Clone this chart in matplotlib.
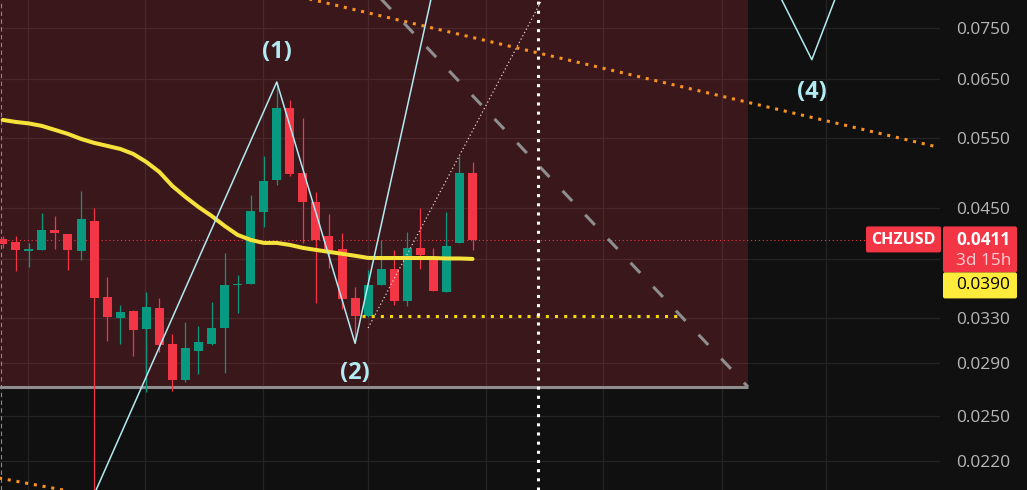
import matplotlib
matplotlib.use('Agg')
import matplotlib.pyplot as plt
from matplotlib.patches import Rectangle, FancyBboxPatch
from matplotlib.transforms import IdentityTransform
from matplotlib.ticker import FixedLocator, FixedFormatter, NullLocator

# daily candles, bar index = position in the lists
opens = [0.04128, 0.04093, 0.03990, 0.04001, 0.04235, 0.04187, 0.03990, 0.04344,
         0.03502, 0.03300, 0.03367, 0.03198, 0.03395, 0.03065, 0.02768, 0.03005,
         0.03065, 0.03207, 0.03623, 0.03633, 0.04456, 0.04879, 0.05984, 0.04977,
         0.04584, 0.04163, 0.04012, 0.03492, 0.03318, 0.03623, 0.03791, 0.03462,
         0.04024, 0.03911, 0.03552, 0.04081, 0.04977]
highs = [0.04163, 0.04163, 0.04081, 0.04443, 0.04406, 0.04190, 0.04729, 0.04507,
         0.03706, 0.03424, 0.03376, 0.03552, 0.03492, 0.03153, 0.03262, 0.03226,
         0.03453, 0.03968, 0.03727, 0.04676, 0.05222, 0.06441, 0.06121, 0.05816,
         0.04715, 0.04431, 0.04199, 0.03600, 0.03780, 0.04116, 0.04001, 0.04211,
         0.04507, 0.04024, 0.04456, 0.05222, 0.05134]
lows = [0.04024, 0.03770, 0.03812, 0.03995, 0.04012, 0.03780, 0.03889, 0.02000,
        0.03091, 0.03065, 0.02963, 0.02675, 0.02996, 0.02683, 0.02752, 0.02816,
        0.03056, 0.02824, 0.03347, 0.03630, 0.04271, 0.04810, 0.04935, 0.04081,
        0.03443, 0.03802, 0.03386, 0.03074, 0.03309, 0.03620, 0.03424, 0.03414,
        0.03791, 0.03560, 0.03550, 0.04075, 0.04001]
closes = [0.04069, 0.04001, 0.04012, 0.04235, 0.04199, 0.04001, 0.04369, 0.03492,
          0.03309, 0.03357, 0.03189, 0.03405, 0.03056, 0.02768, 0.03030, 0.03083,
          0.03207, 0.03623, 0.03633, 0.04469, 0.04865, 0.05984, 0.04963, 0.04584,
          0.04116, 0.03979, 0.03482, 0.03318, 0.03623, 0.03791, 0.03462, 0.04024,
          0.03946, 0.03562, 0.04046, 0.04977, 0.04110]
ma_values = [0.05783, 0.05750, 0.05726, 0.05686, 0.05622, 0.05558, 0.05480, 0.05419,
             0.05373, 0.05327, 0.05252, 0.05134, 0.04991, 0.04796, 0.04649, 0.04519,
             0.04406, 0.04283, 0.04175, 0.04116, 0.04081, 0.04081, 0.04058, 0.04024,
             0.04001, 0.03979, 0.03957, 0.03935, 0.03911, 0.03910, 0.03910, 0.03910,
             0.03910, 0.03910, 0.03905, 0.03905, 0.03900]

price_ticks = [0.022, 0.025, 0.029, 0.033, 0.039, 0.045, 0.055, 0.065, 0.075]
price_tick_labels = ['0.0220', '0.0250', '0.0290', '0.0330', '', '0.0450',
                     '0.0550', '0.0650', '0.0750']
time_grid = [1.94, 10.9, 19.95, 28.0, 37.0, 46.0, 55.1, 63.1]

# elliott wave count (0)-(5)
wave_bars = [7, 21, 27, 41, 62, 69.6]
wave_prices = [0.0200, 0.0644, 0.0307, 0.321, 0.0686, 0.143]
wave_labels = ['(1)', '(2)', '(4)']
wave_label_bars = [21, 27, 62]
wave_label_prices = [0.0701, 0.0282, 0.0626]

# drawings
zone_end_bar = 57.1
zone_floor = 0.02714
fall_bars = [27, 57.1]
fall_prices = [0.0881, 0.02714]
trend_bars = [22, 71.6]
trend_prices = [0.08254, 0.05357]
trend_low_bars = [-0.3, 6]
trend_low_prices = [0.02096, 0.02007]
proj_bars = [28, 41.3]
proj_prices = [0.03207, 0.0812]
support_bars = [27.5, 52.0]
support_price = 0.03318
today_bar = 41
last_price = 0.0411
ma_last = 0.0390
symbol = 'CHZUSD'
countdown = '3d 15h'

BG = '#101010'
UP = '#089981'
DOWN = '#f23645'
WAVE = '#b2ebf2'

W, H = 1027, 490
fig = plt.figure(figsize=(W / 100, H / 100), dpi=100, facecolor=BG)
ax = fig.add_axes([0, 0, 940 / W, 1])
ax.set_facecolor(BG)
ax.set_yscale('log')
ax.set_xlim(-0.207, 71.82)
ax.set_ylim(0.02026, 0.08124)

for s in ax.spines.values():
    s.set_visible(False)
ax.yaxis.set_major_locator(FixedLocator(price_ticks))
ax.yaxis.set_major_formatter(FixedFormatter(price_tick_labels))
ax.yaxis.set_minor_locator(NullLocator())
ax.yaxis.tick_right()
ax.tick_params(axis='y', length=0, pad=11.5, labelsize=12.4, labelcolor='#b8b8b8')
for t in ax.get_yticklabels():
    t.set_fontfamily('Open Sans')
ax.set_xticks(time_grid)
ax.set_xticklabels([])
ax.tick_params(axis='x', length=0)
ax.grid(True, color='#242424', lw=0.9, zorder=0)
ax.set_axisbelow(True)

# red zone
ax.add_patch(Rectangle((-5, zone_floor), zone_end_bar + 5, 1.0,
                       facecolor='#e2384c', alpha=0.2, lw=0, zorder=1))
ax.hlines(zone_floor, -5, zone_end_bar, color='#8e8e8e', lw=2.2, zorder=2)

# left edge dashes
ax.axvline(-0.107, color='#8a8a8a', lw=0.8, ls=(0, (4, 3)), zorder=2)

# last price line
ax.axhline(last_price, xmax=866 / 940, color=DOWN, lw=0.8, ls=(0, (1, 2.5)), zorder=2)

# candles
for i in range(len(opens)):
    o, h, l, c = opens[i], highs[i], lows[i], closes[i]
    col = UP if c >= o else DOWN
    ax.vlines(i, l, h, color=col, lw=0.9, zorder=3)
    ax.bar(i, abs(c - o), bottom=min(o, c), width=0.69, color=col, lw=0, zorder=3)

# moving average
ax.plot(range(len(ma_values)), ma_values, color='#f5e23a', lw=2.9,
        solid_capstyle='round', solid_joinstyle='round', zorder=4)

# trend lines
ax.plot(trend_bars, trend_prices, color='#f7931e', lw=2.2, ls=(0, (1, 1.9)),
        dash_capstyle='butt', zorder=5)
ax.plot(trend_low_bars, trend_low_prices, color='#f7931e', lw=2.2, ls=(0, (1, 1.9)),
        dash_capstyle='butt', zorder=5)
ax.plot(fall_bars, fall_prices, color='#8e8e8e', lw=2.2, ls=(0, (4.6, 6.2)),
        dash_capstyle='butt', zorder=5)
ax.plot(proj_bars, proj_prices, color='#e8cfd2', lw=0.9, ls=(0, (1, 2)), zorder=5)
ax.hlines(support_price, support_bars[0], support_bars[1], color='#f5d90a', lw=2.2,
          ls=(0, (1, 2)), zorder=5)
ax.axvline(today_bar, color='white', lw=2.2, ls=(0, (1, 2)), zorder=5)

# wave count
ax.plot(wave_bars, wave_prices, color=WAVE, lw=1.1, zorder=6)
for lab, b, p in zip(wave_labels, wave_label_bars, wave_label_prices):
    ax.text(b, p, lab, color=WAVE, fontsize=17, fontfamily='Open Sans',
            fontweight='bold', ha='center', va='center', zorder=6)

# right-side price labels
y0 = ax.transData.transform((0, last_price))[1]
fig.add_artist(FancyBboxPatch((943, y0 - 32), 74, 46, boxstyle='round,pad=0,rounding_size=2',
                              transform=IdentityTransform(), facecolor=DOWN, lw=0))
fig.add_artist(FancyBboxPatch((943, y0 - 58), 74, 26, boxstyle='round,pad=0,rounding_size=2',
                              transform=IdentityTransform(), facecolor='#ffeb3b', lw=0))
fig.add_artist(FancyBboxPatch((866, y0 - 12), 75, 26, boxstyle='round,pad=0,rounding_size=2',
                              transform=IdentityTransform(), facecolor=DOWN, lw=0))
fig.text(956 / W, y0 / H, f'{last_price:.4f}', color='white', fontsize=12.4,
         fontfamily='Open Sans', fontweight='bold', ha='left', va='center')
fig.text(956 / W, (y0 - 21) / H, countdown, color='#ffcdd2', fontsize=12.4,
         fontfamily='Open Sans', ha='left', va='center')
fig.text(956 / W, (y0 - 45) / H, f'{ma_last:.4f}', color='black', fontsize=12.4,
         fontfamily='Open Sans', ha='left', va='center')
fig.text(903.5 / W, y0 / H, symbol, color='white', fontsize=11.5,
         fontfamily='Open Sans', fontweight='bold', ha='center', va='center')

fig.savefig('out.png', dpi=100, facecolor=BG)
